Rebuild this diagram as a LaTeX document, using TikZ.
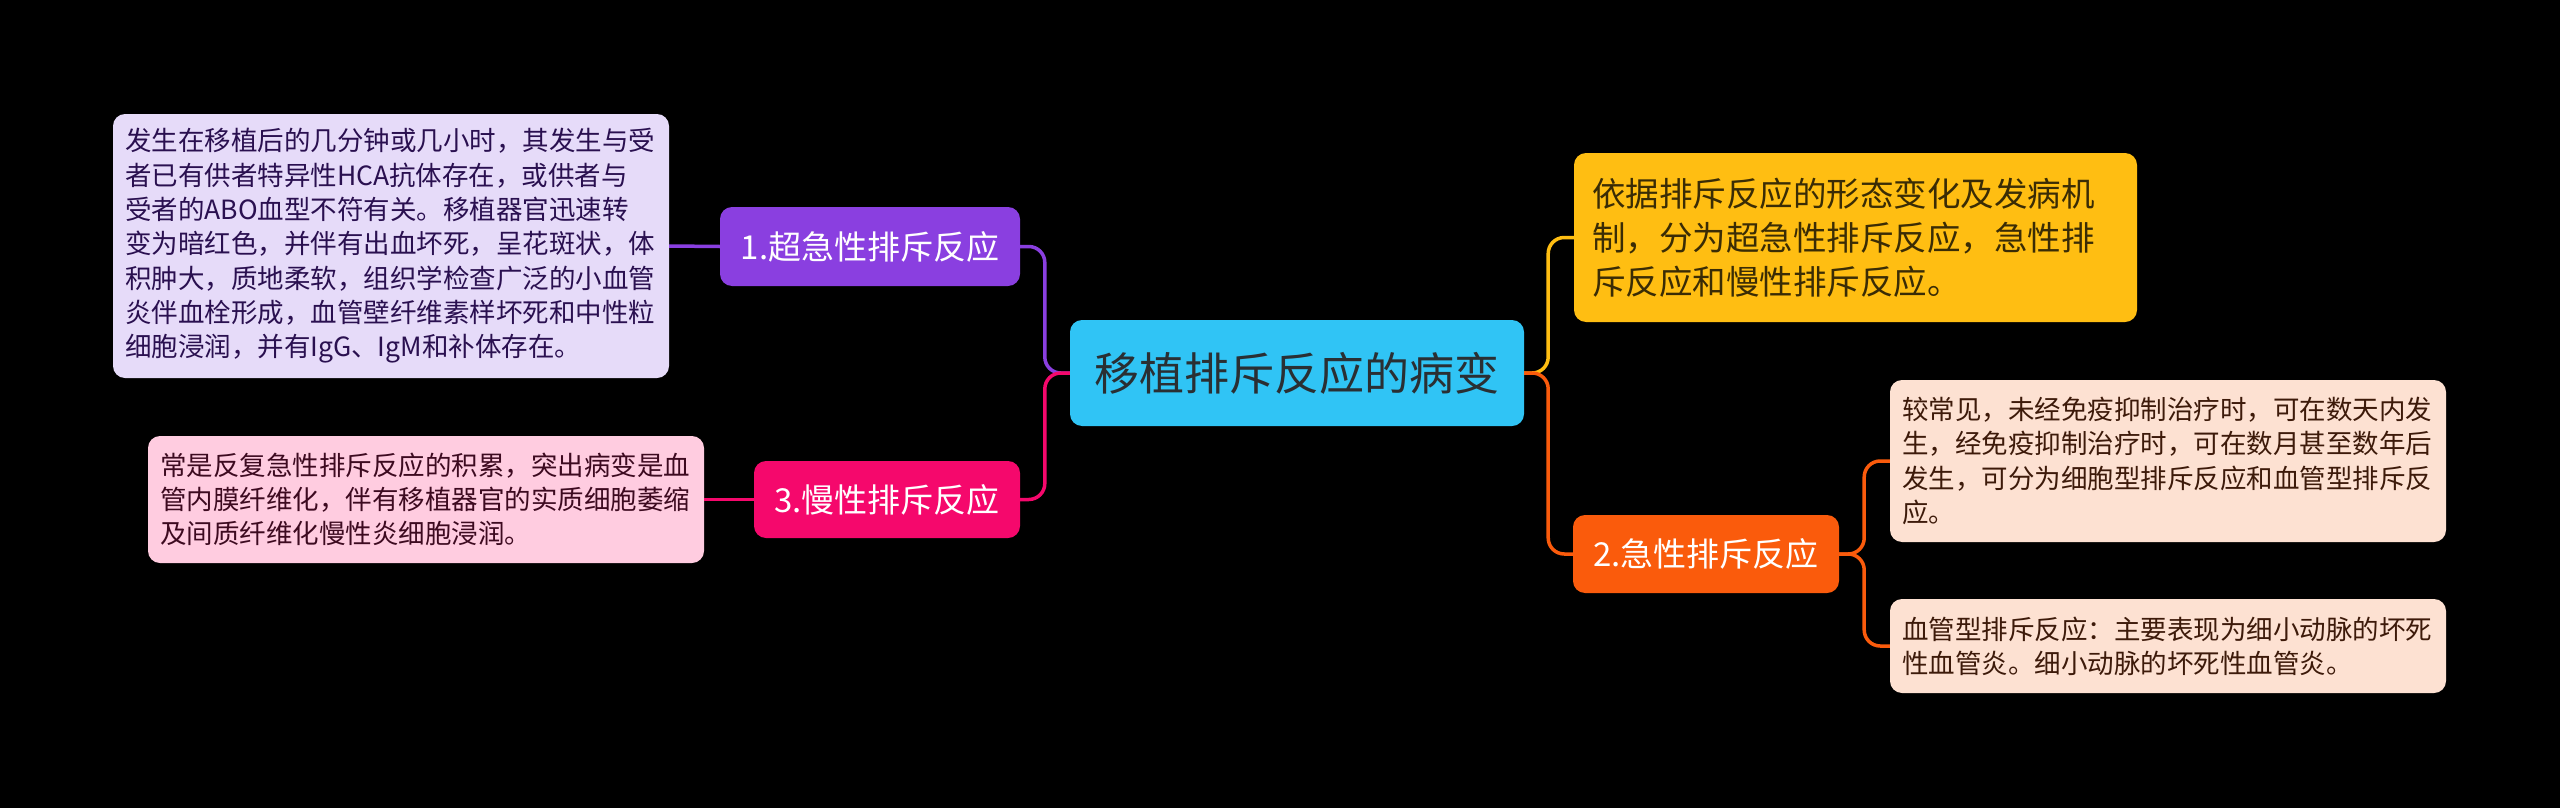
\documentclass[tikz,border=0pt]{standalone}
\usepackage{fontspec}
\setmainfont{Noto Sans CJK SC}
\definecolor{bgc}{HTML}{000000}
\definecolor{cen}{HTML}{30C4F5}
\definecolor{cenT}{HTML}{2A2F33}
\definecolor{pur}{HTML}{8A3FE0}
\definecolor{purL}{HTML}{E6DBF9}
\definecolor{purT}{HTML}{2A1050}
\definecolor{pnk}{HTML}{F5086C}
\definecolor{pnkL}{HTML}{FFCCE0}
\definecolor{pnkT}{HTML}{3D0A20}
\definecolor{yel}{HTML}{FFBE12}
\definecolor{yelT}{HTML}{3A2C05}
\definecolor{org}{HTML}{FA5B0C}
\definecolor{orgL}{HTML}{FDE1D2}
\definecolor{orgT}{HTML}{3D1A0A}
\tikzset{
  box/.style={rounded corners=12pt, inner sep=0pt, align=left, anchor=center},
  topic/.style={box, text=white, font=\fontsize{33}{40}\selectfont},
  small/.style={box, inner xsep=12pt, text width=532pt, font=\fontsize{26.5}{34.3}\selectfont},
  link/.style={line width=3.5pt, rounded corners=16pt}
}
\begin{document}
\begin{tikzpicture}[x=1pt,y=-1pt]
\fill[bgc] (0,0) rectangle (2560,808);
\useasboundingbox (0,0) rectangle (2560,808);

% central
\node[box, fill=cen, text=cenT, minimum width=454pt, minimum height=106pt,
  font=\fontsize{45}{54}\selectfont] (c) at (1297,373) {移植排斥反应的病变};

% left topics
\node[topic, fill=pur, minimum width=300pt, minimum height=79pt] (n1) at (870,246.5) {1.超急性排斥反应};
\node[topic, fill=pnk, minimum width=266pt, minimum height=77pt] (n3) at (887,499.5) {3.慢性排斥反应};

% right topics
\node[box, fill=yel, text=yelT, inner xsep=18pt, text width=527pt, minimum height=169pt,
  font=\fontsize{33.5}{44}\selectfont] (y) at (1855.5,237.5)
  {依据排斥反应的形态变化及发病机\\制，分为超急性排斥反应，急性排\\斥反应和慢性排斥反应。};
\node[topic, fill=org, minimum width=266pt, minimum height=78pt] (n2) at (1706,554) {2.急性排斥反应};

% details
\node[small, fill=purL, text=purT, minimum height=264pt] (d1) at (391,246)
  {发生在移植后的几分钟或几小时，其发生与受\\者已有供者特异性HCA抗体存在，或供者与\\受者的ABO血型不符有关。移植器官迅速转\\变为暗红色，并伴有出血坏死，呈花斑状，体\\积肿大，质地柔软，组织学检查广泛的小血管\\炎伴血栓形成，血管壁纤维素样坏死和中性粒\\细胞浸润，并有IgG、IgM和补体存在。};
\node[small, fill=pnkL, text=pnkT, minimum height=127pt] (d3) at (426,499.5)
  {常是反复急性排斥反应的积累，突出病变是血\\管内膜纤维化，伴有移植器官的实质细胞萎缩\\及间质纤维化慢性炎细胞浸润。};
\node[small, fill=orgL, text=orgT, minimum height=162pt] (da) at (2168,461)
  {较常见，未经免疫抑制治疗时，可在数天内发\\生，经免疫抑制治疗时，可在数月甚至数年后\\发生，可分为细胞型排斥反应和血管型排斥反\\应。};
\node[small, fill=orgL, text=orgT, minimum height=94pt] (db) at (2168,646)
  {血管型排斥反应：主要表现为细小动脉的坏死\\性血管炎。细小动脉的坏死性血管炎。};

% connectors
\draw[link, pur] (c.west) -- ++(-25,0) |- (n1.east);
\draw[link, pnk] (c.west) -- ++(-25,0) |- (n3.east);
\draw[link, pur] (n1.west) -- (d1.east);
\draw[link, pnk] (n3.west) -- (d3.east);
\draw[link, yel] (c.east) -- ++(24,0) |- (y.west);
\draw[link, org] (c.east) -- ++(24,0) |- (n2.west);
\draw[link, org] (n2.east) -- ++(25,0) |- (da.west);
\draw[link, org] (n2.east) -- ++(25,0) |- (db.west);
\end{tikzpicture}
\end{document}
